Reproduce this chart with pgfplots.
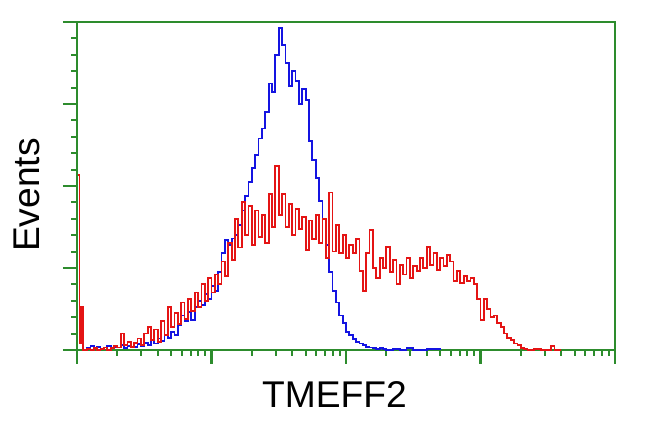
\documentclass[border=0pt]{standalone}
\usepackage{pgfplots}
\pgfplotsset{compat=1.18}
\usepackage{fontspec}
\setmainfont{Liberation Sans}
\definecolor{axgreen}{RGB}{45,140,45}
\definecolor{hblue}{RGB}{20,20,225}
\definecolor{hred}{RGB}{228,20,20}

\pgfplotstableread{
d v
0.050 0
0.075 3
0.100 5
0.125 2
0.150 4
0.175 1
0.200 3
0.225 5
0.250 2
0.275 4
0.300 3
0.325 6
0.350 2
0.375 5
0.400 3
0.425 4
0.450 7
0.475 5
0.500 9
0.525 6
0.550 12
0.575 8
0.600 14
0.625 11
0.650 18
0.675 15
0.700 22
0.725 18
0.750 30
0.775 42
0.800 35
0.825 46
0.850 37
0.875 52
0.900 60
0.925 55
0.950 68
0.975 62
1.000 78
1.025 72
1.050 95
1.075 118
1.100 134
1.125 128
1.150 136
1.175 140
1.200 152
1.225 170
1.250 188
1.275 205
1.300 222
1.325 238
1.350 258
1.375 270
1.400 290
1.425 325
1.450 315
1.475 360
1.500 393
1.525 372
1.550 350
1.575 322
1.600 340
1.625 328
1.650 300
1.675 318
1.700 305
1.725 255
1.750 232
1.775 210
1.800 182
1.825 160
1.850 128
1.875 95
1.900 72
1.925 58
1.950 42
1.975 33
2.000 22
2.025 18
2.050 13
2.075 10
2.100 8
2.125 6
2.150 4
2.175 3
2.200 2
2.225 1
2.250 2
2.275 1
2.300 0
2.350 1
2.400 0
2.450 2
2.500 0
2.600 1
2.700 0
}\bluedata

\pgfplotstableread{
d v
0.008 213
0.018 8
0.032 52
0.042 0
0.050 0
0.075 1
0.100 0
0.125 2
0.150 0
0.175 1
0.200 3
0.225 0
0.250 2
0.275 5
0.300 3
0.325 20
0.350 6
0.375 10
0.400 4
0.425 9
0.450 14
0.475 6
0.500 20
0.525 28
0.550 12
0.575 25
0.600 10
0.625 35
0.650 18
0.675 52
0.700 28
0.725 45
0.750 32
0.775 58
0.800 38
0.825 62
0.850 48
0.875 70
0.900 52
0.925 80
0.950 60
0.975 88
1.000 70
1.025 92
1.050 80
1.075 108
1.100 90
1.125 130
1.150 110
1.175 160
1.200 125
1.225 180
1.250 140
1.275 176
1.300 128
1.325 170
1.350 138
1.375 165
1.400 130
1.425 190
1.450 150
1.475 224
1.500 165
1.525 190
1.550 150
1.575 178
1.600 140
1.625 172
1.650 148
1.675 162
1.700 122
1.725 158
1.750 135
1.775 165
1.800 130
1.825 160
1.850 112
1.875 192
1.900 120
1.925 152
1.950 118
1.975 140
2.000 112
2.025 128
2.050 118
2.075 135
2.100 96
2.125 72
2.150 118
2.175 146
2.200 100
2.225 88
2.250 112
2.275 100
2.300 126
2.325 95
2.350 110
2.375 80
2.400 104
2.425 92
2.450 112
2.475 88
2.500 102
2.525 96
2.550 112
2.575 100
2.600 126
2.625 104
2.650 118
2.675 98
2.700 112
2.725 102
2.750 116
2.775 108
2.800 84
2.825 96
2.850 82
2.875 90
2.900 84
2.925 88
2.950 80
2.975 62
3.000 37
3.025 62
3.050 50
3.075 40
3.100 42
3.125 33
3.150 28
3.175 20
3.200 15
3.225 12
3.250 8
3.275 6
3.300 2
3.325 1
3.350 0
3.400 1
3.450 0
3.500 0
3.525 5
3.550 0
3.600 0
}\reddata

\begin{document}
\begin{tikzpicture}[x=0.5pt,y=0.5pt]
\useasboundingbox (0,0) rectangle (650,432);
\coordinate (O) at (77,82);
\begin{axis}[
  at={(O)}, anchor=south west,
  width=269pt, height=164pt, scale only axis,
  xmin=0, xmax=4, ymin=0, ymax=400,
  axis line style={axgreen, line width=1.3pt},
  xtick={0,1,2,3,4},
  minor xtick={0.301,0.477,0.602,0.699,0.778,0.845,0.903,0.954,
    1.301,1.477,1.602,1.699,1.778,1.845,1.903,1.954,
    2.301,2.477,2.602,2.699,2.778,2.845,2.903,2.954,
    3.301,3.477,3.602,3.699,3.778,3.845,3.903,3.954},
  ytick={0,100,200,300,400},
  minor y tick num=4,
  xticklabels={}, yticklabels={},
  tick align=outside,
  xtick pos=bottom, ytick pos=left,
  major tick length=7pt, minor tick length=3pt,
  major tick style={axgreen, line width=1.1pt},
  minor tick style={axgreen, line width=1pt},
  clip=false,
]
\addplot[const plot, hblue, line width=0.9pt] table[x=d, y=v] {\bluedata};
\addplot[const plot, hred, line width=0.9pt] table[x=d, y=v] {\reddata};
\end{axis}
\node[font=\fontsize{18.6}{20}\selectfont, inner sep=0pt] at (334.5,37) {TMEFF2};
\node[font=\fontsize{18.6}{20}\selectfont, inner sep=0pt, rotate=90] at (27,237) {Events};
\end{tikzpicture}
\end{document}
